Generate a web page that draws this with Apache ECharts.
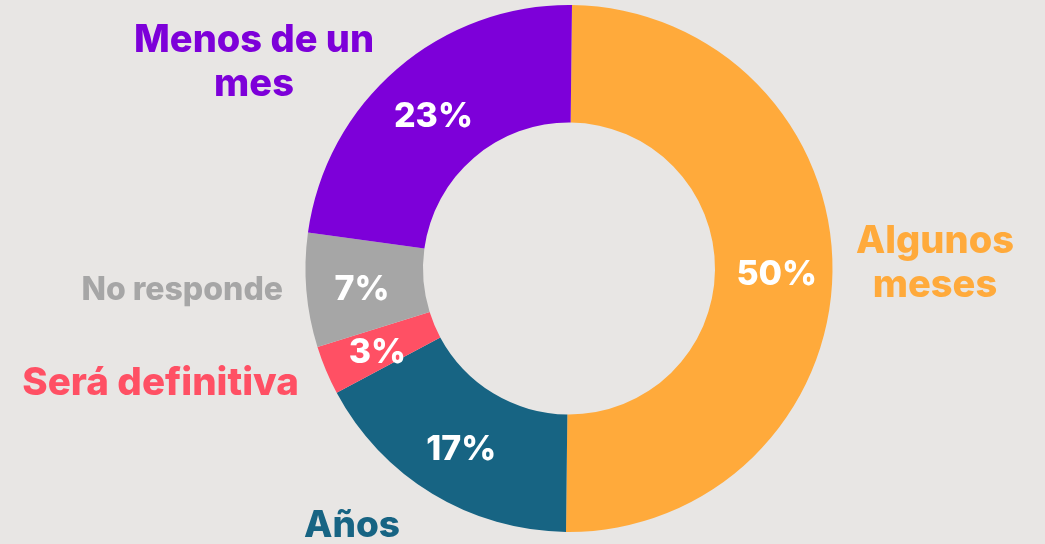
<!DOCTYPE html>
<html>
<head>
<meta charset="utf-8">
<script src="https://cdn.jsdelivr.net/npm/echarts@6/dist/echarts.min.js"></script>
<style>
  html, body { margin: 0; padding: 0; background: #e8e6e4; }
  #main { width: 1045px; height: 544px; }
</style>
</head>
<body>
<div id="main"></div>
<script>
// datos del gráfico
var categories = ['Algunos\nmeses', 'Años', 'Será definitiva', 'No responde', 'Menos de un\nmes'];
var values = [50, 17, 3, 7, 23];
var colors = ['#ffaa3b', '#176483', '#ff5064', '#a6a6a6', '#7d00d9'];

var cx = 569, cy = 268.5;
// posición de cada etiqueta respecto al centro del anillo
var labelSpots = [
  { dx: 366, dy: -5, align: 'center', size: 38 },
  { dx: -217, dy: 257, align: 'center', size: 37 },
  { dx: -270, dy: 115, align: 'right', size: 38.5 },
  { dx: -286, dy: 22, align: 'right', size: 32 },
  { dx: -315, dy: -206, align: 'center', size: 38 }
];

var font = 'Inter, "Open Sans", sans-serif';

var pieData = categories.map(function (name, i) {
  return {
    name: name,
    value: values[i],
    itemStyle: { color: colors[i] }
  };
});

var nameData = categories.map(function (name, i) {
  return {
    name: name,
    value: values[i],
    label: {
      color: i === 3 ? '#a6a6a6' : colors[i],
      fontSize: labelSpots[i].size,
      align: labelSpots[i].align
    }
  };
});

var chart = echarts.init(document.getElementById('main'));

var option = {
  backgroundColor: '#e8e6e4',
  animation: false,
  series: [{
    type: 'pie',
    center: [cx, cy],
    radius: [146, 263.5],
    startAngle: 89.35,
    clockwise: true,
    avoidLabelOverlap: false,
    silent: true,
    label: {
      show: true,
      position: 'inside',
      formatter: '{c}%',
      color: '#ffffff',
      fontFamily: font,
      fontWeight: 800,
      fontSize: 34
    },
    labelLine: { show: false },
    // el original tiene los porcentajes un poco más abajo
    labelLayout: function (params) {
      return { dy: params.dataIndex === 4 ? 6 : 4 };
    },
    data: pieData
  }, {
    // serie transparente solo para los nombres
    type: 'pie',
    center: [cx, cy],
    radius: [146, 263.5],
    startAngle: 89.35,
    clockwise: true,
    avoidLabelOverlap: false,
    silent: true,
    itemStyle: { color: 'rgba(0,0,0,0)' },
    label: {
      show: true,
      position: 'outside',
      formatter: '{b}',
      fontFamily: font,
      fontWeight: 800,
      lineHeight: 44
    },
    labelLine: { show: false },
    labelLayout: function (params) {
      var s = labelSpots[params.dataIndex];
      return {
        x: cx + s.dx,
        y: cy + s.dy,
        align: s.align,
        verticalAlign: 'middle'
      };
    },
    data: nameData
  }]
};

chart.setOption(option);
</script>
</body>
</html>
